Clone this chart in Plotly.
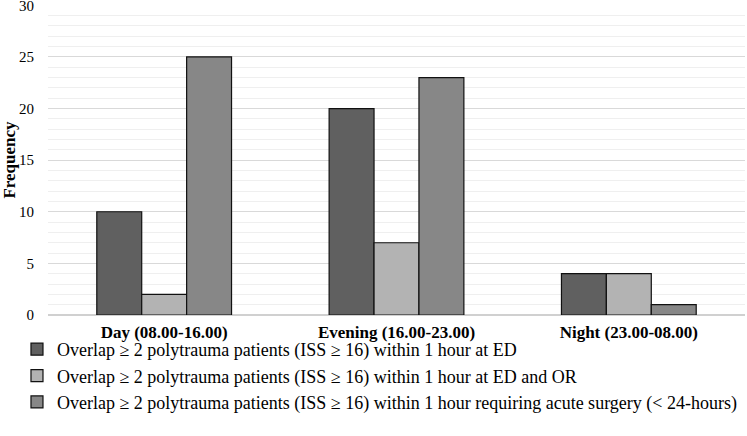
import plotly.graph_objects as go

categories = ["Day (08.00-16.00)", "Evening (16.00-23.00)", "Night (23.00-08.00)"]
series_names = [
    "Overlap ≥ 2 polytrauma patients (ISS ≥ 16) within 1 hour at ED",
    "Overlap ≥ 2 polytrauma patients (ISS ≥ 16) within 1 hour at ED and OR",
    "Overlap ≥ 2 polytrauma patients (ISS ≥ 16) within 1 hour requiring acute surgery (< 24-hours)",
]
ed_values = [10, 20, 4]
ed_or_values = [2, 7, 4]
surgery_values = [25, 23, 1]
colors = ["#606060", "#b3b3b3", "#878787"]

fig = go.Figure()
for name, vals, col in zip(series_names, [ed_values, ed_or_values, surgery_values], colors):
    fig.add_trace(go.Bar(
        x=categories, y=vals, name=name,
        marker=dict(color=col, line=dict(color="#111111", width=1.2)),
    ))

fig.update_layout(
    width=747, height=436,
    barmode="group", bargap=0.42, bargroupgap=0,
    plot_bgcolor="white", paper_bgcolor="white",
    font=dict(family="Liberation Serif", color="#000000", size=15),
    margin=dict(l=48, r=2, t=5, b=121, autoexpand=False),
    showlegend=True,
    legend=dict(
        orientation="v", x=-0.0445, xanchor="left", y=-0.0515, yanchor="top",
        font=dict(size=18, family="Liberation Serif"),
        bgcolor="rgba(0,0,0,0)",
        traceorder="normal", itemwidth=30, tracegroupgap=0,
    ),
    xaxis=dict(
        tickfont=dict(size=17, family="Liberation Serif", weight="bold"),
        showline=True, linecolor="#d0d0d0", linewidth=1,
        ticks="", ticklabelstandoff=2,
    ),
    yaxis=dict(
        range=[0, 30.03], dtick=5, tick0=0,
        showgrid=True, gridcolor="#d9d9d9", gridwidth=1,
        minor=dict(dtick=1, showgrid=True, gridcolor="#efefef", gridwidth=1),
        zeroline=True, zerolinecolor="#d0d0d0",
        tickfont=dict(size=15, family="Liberation Serif"),
        ticklabeloverflow="allow",
        ticks="", ticklabelstandoff=13,
        title=dict(text="<b>Frequency</b>", font=dict(size=17, family="Liberation Serif"), standoff=2),
    ),
)

fig.write_html("out.html", config={"displayModeBar": False},
               post_script="document.body.style.margin='0';")
